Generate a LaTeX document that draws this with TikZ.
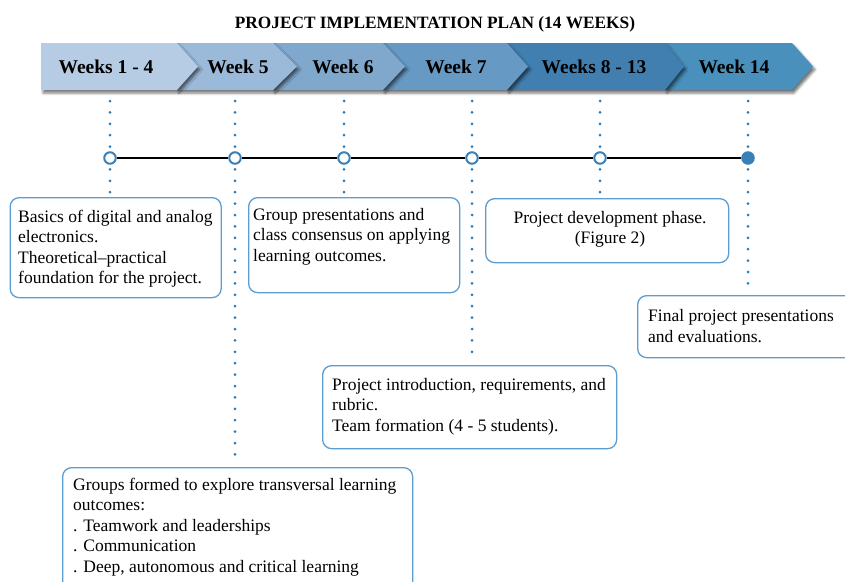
\documentclass[tikz,border=0pt]{standalone}
\usepackage{fontspec}
\setmainfont{Liberation Serif}
\usetikzlibrary{shadows.blur}

\definecolor{chevA}{HTML}{B5CCE4}
\definecolor{chevB}{HTML}{9BBAD9}
\definecolor{chevC}{HTML}{80A7CC}
\definecolor{chevD}{HTML}{6699C3}
\definecolor{chevE}{HTML}{417FB0}
\definecolor{chevF}{HTML}{4990BC}
\definecolor{dotblue}{HTML}{2A7AB8}
\definecolor{boxblue}{HTML}{5E9DD0}
\definecolor{markblue}{HTML}{3A80B8}

\tikzset{
  chevron/.style={fill=#1, draw=none,
    blur shadow={shadow xshift=2pt, shadow yshift=-3pt, shadow blur radius=2.5pt, shadow opacity=55}},
  weeklabel/.style={font=\fontsize{19.5}{22}\selectfont\bfseries, inner sep=0pt, anchor=base},
  dotline/.style={draw=dotblue, line width=3pt, line cap=round, dash pattern=on 0pt off 11.4pt},
  milestone/.style={circle, draw=markblue, fill=white, line width=2pt, minimum size=11.5pt, inner sep=0pt},
  milestonefull/.style={circle, draw=markblue, fill=markblue, line width=2pt, minimum size=11.5pt, inner sep=0pt},
  infobox/.style={draw=boxblue, line width=1.3pt, rounded corners=9pt, anchor=north west, inner sep=0pt},
  % multi-line text is placed by the baseline of its last line
  infotext/.style={font=\fontsize{17.5}{20.5}\selectfont, align=left, anchor=base west, inner sep=0pt},
}

\begin{document}
\begin{tikzpicture}[x=1pt, y=-1pt]
\useasboundingbox (0,0) rectangle (845,581);
\clip (0,0) rectangle (845,581);

% title
\node[font=\fontsize{17.3}{20}\selectfont\bfseries, anchor=base, inner sep=0pt] (title) at (435,28)
  {PROJECT IMPLEMENTATION PLAN (14 WEEKS)};

% description boxes
\node[infobox, minimum width=211pt, minimum height=100pt] (b1) at (9.5,197) {};
\node[infobox, minimum width=211pt, minimum height=95pt]  (b2) at (248,197) {};
\node[infobox, minimum width=243pt, minimum height=64pt]  (b3) at (485,198) {};
\node[infobox, minimum width=240pt, minimum height=62pt]  (b4) at (637,295) {};
\node[infobox, minimum width=294pt, minimum height=83pt]  (b5) at (322,365) {};
\node[infobox, minimum width=350pt, minimum height=140pt] (b6) at (62,467) {};

\node[infotext] (t1) at (18,283.5) {Basics of digital and analog\\electronics.\\Theoretical--practical\\foundation for the project.};
\node[infotext] (t2) at (253,261) {Group presentations and\\class consensus on applying\\learning outcomes.};
\node[infotext, align=center, anchor=base] (t3) at (610,243.5) {Project development phase.\\(Figure 2)};
\node[infotext] (t4) at (648,342) {Final project presentations\\and evaluations.};
\node[infotext] (t5) at (332,431) {Project introduction, requirements, and\\rubric.\\Team formation (4 - 5 students).};
\node[infotext] (t6) at (73,572) {Groups formed to explore transversal learning\\outcomes:\\. Teamwork and leaderships\\. Communication\\. Deep, autonomous and critical learning};

% dotted leaders from the week band down to each box
\coordinate (d1) at (110,101);
\coordinate (d2) at (235,101);
\coordinate (d3) at (344,101);
\coordinate (d4) at (472,101);
\coordinate (d5) at (600,101);
\coordinate (d6) at (748,101);
\draw[dotline] (d1) -- ([yshift=3pt]d1 |- b1.north);
\draw[dotline] (d2) -- ([yshift=3pt]d2 |- b6.north);
\draw[dotline] (d3) -- ([yshift=3pt]d3 |- b2.north);
\draw[dotline] (d4) -- ([yshift=3pt]d4 |- b5.north);
\draw[dotline] (d5) -- ([yshift=3pt]d5 |- b3.north);
\draw[dotline] (d6) -- ([yshift=3pt]d6 |- b4.north);

% week band, drawn right to left so each tip overlaps the next segment
\fill[chevron=chevF] (665,43) -- (792,43) -- (813,66.5) -- (792,90) -- (665,90) -- cycle;
\fill[chevron=chevE] (507,43) -- (665,43) -- (684,66.5) -- (665,90) -- (507,90) -- cycle;
\fill[chevron=chevD] (383,43) -- (507,43) -- (528,66.5) -- (507,90) -- (383,90) -- cycle;
\fill[chevron=chevC] (273,43) -- (383,43) -- (405,66.5) -- (383,90) -- (273,90) -- cycle;
\fill[chevron=chevB] (177,43) -- (273,43) -- (297,66.5) -- (273,90) -- (177,90) -- cycle;
\fill[chevron=chevA] (41,43) -- (177,43) -- (198,66.5) -- (177,90) -- (41,90) -- cycle;

\node[weeklabel] (w1) at (106,73.5) {Weeks 1 - 4};
\node[weeklabel] (w2) at (238,73.5) {Week 5};
\node[weeklabel] (w3) at (343,73.5) {Week 6};
\node[weeklabel] (w4) at (456,73.5) {Week 7};
\node[weeklabel] (w5) at (594,73.5) {Weeks 8 - 13};
\node[weeklabel] (w6) at (734,73.5) {Week 14};

% timeline with milestones
\node[milestone] (m1) at (110,158) {};
\node[milestone] (m2) at (235,158) {};
\node[milestone] (m3) at (344,158) {};
\node[milestone] (m4) at (472,158) {};
\node[milestone] (m5) at (600,158) {};
\node[milestonefull] (m6) at (748,158) {};
\draw[line width=1.3pt] (m1) -- (m2);
\draw[line width=1.3pt] (m2) -- (m3);
\draw[line width=1.3pt] (m3) -- (m4);
\draw[line width=1.3pt] (m4) -- (m5);
\draw[line width=1.3pt] (m5) -- (m6);
\end{tikzpicture}
\end{document}
